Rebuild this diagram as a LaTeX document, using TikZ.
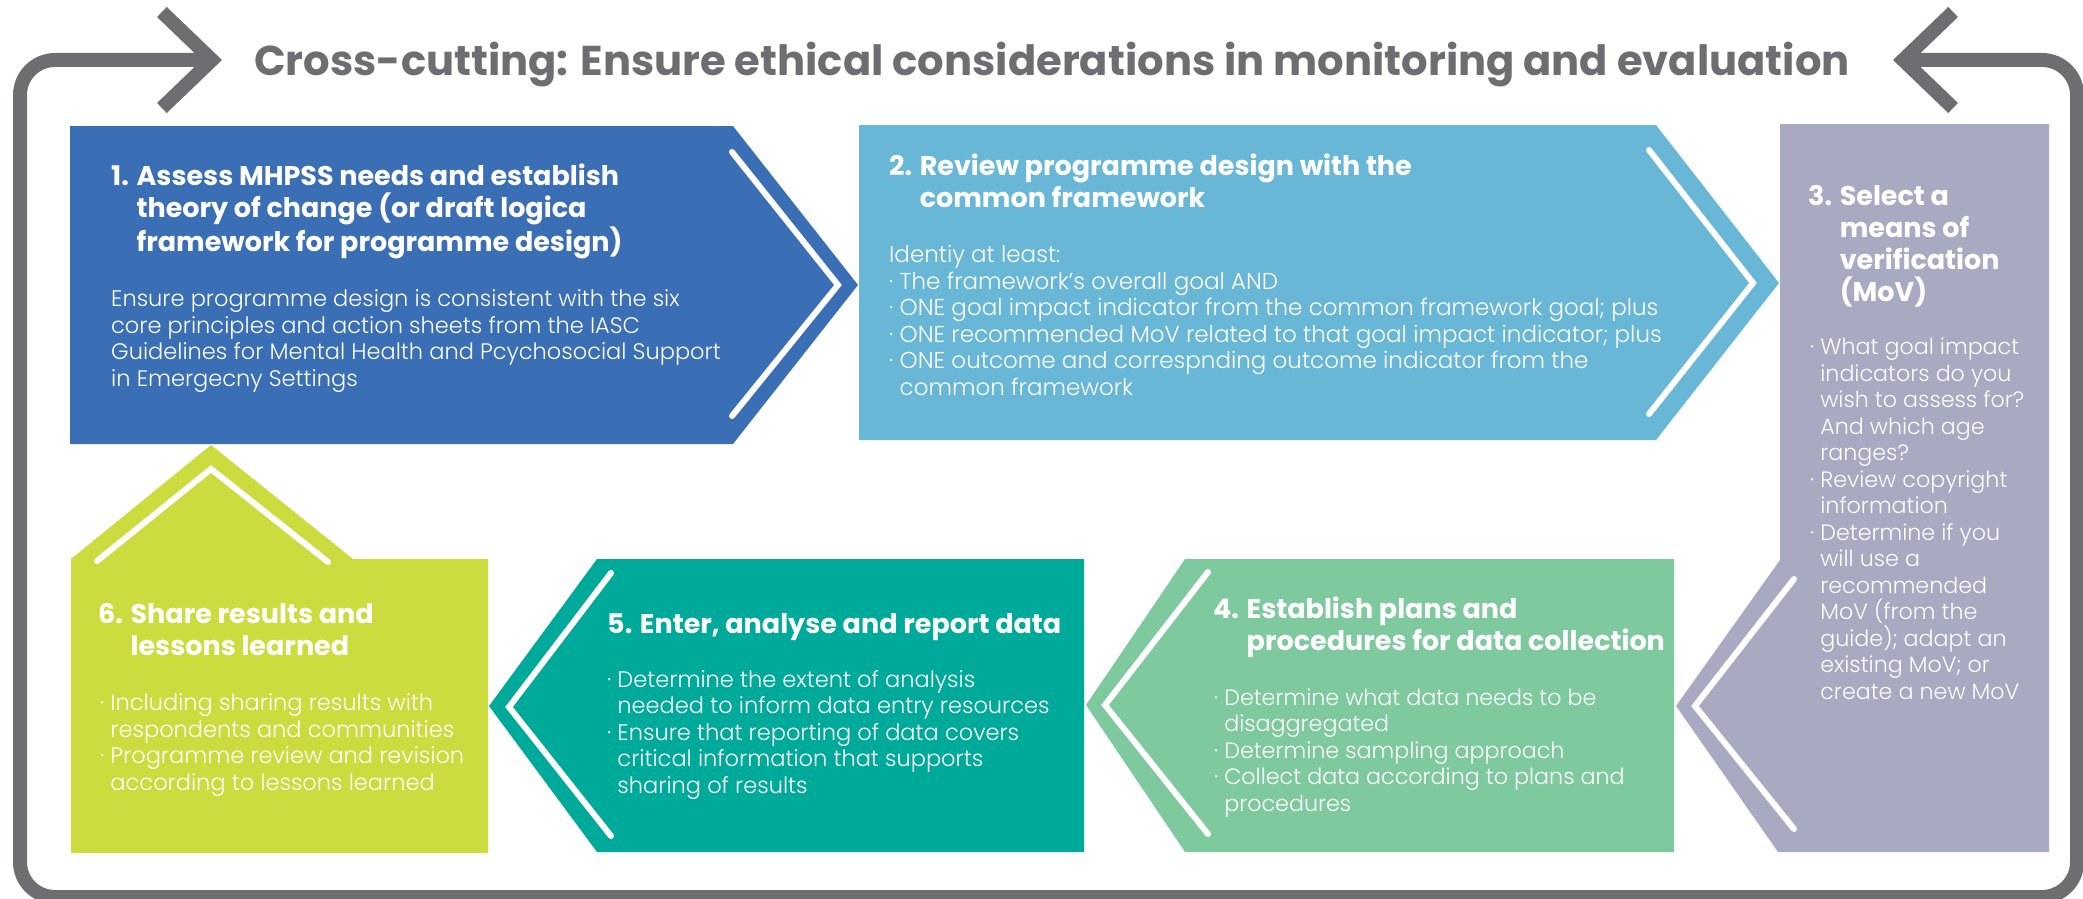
\documentclass[tikz,border=0pt]{standalone}
\usepackage{fontspec}
\setmainfont{Poppins}[UprightFont=* Light, BoldFont=* Bold]
\usetikzlibrary{arrows.meta}

\definecolor{gris}{HTML}{6D6E71}
\definecolor{azul}{HTML}{3A6EB5}
\definecolor{celeste}{HTML}{69B7D6}
\definecolor{lila}{HTML}{A9A9C2}
\definecolor{verde}{HTML}{7FC99F}
\definecolor{turquesa}{HTML}{00AA9A}
\definecolor{lima}{HTML}{CCDB3D}

\newcommand{\bul}{·\ }
\newcommand{\sang}{\phantom{·\ }}

\begin{document}
\begin{tikzpicture}[x=1pt, y=-1pt,
    titulo/.style={anchor=base, inner sep=0pt, text=gris, font=\bfseries\fontsize{41.7}{50}\selectfont},
    cabeza/.style={anchor=base west, inner sep=0pt, align=left, text=white, font=\bfseries\fontsize{27}{32}\selectfont},
    cuerpo/.style={anchor=base west, inner sep=0pt, align=left, text=white, font=\fontsize{#1}{26.5}\selectfont},
    cuerpo/.default=22.5,
    chevron/.style={white, line width=6pt, line cap=round, line join=miter},
    barba/.tip={Straight Barb[length=50pt, width=96pt]}]
    \useasboundingbox (0,0) rectangle (2083,899);
    \clip (0,0) rectangle (2083,899);

    % Ciclo
    \draw[gris, line width=14pt, rounded corners=35pt, barba-barba]
        (1893,60) -- (2077,60) -- (2077,897) -- (20,897) -- (20,60) -- (222,60);
    \node[titulo] (titulo) at (1052,76) {Cross-cutting: Ensure ethical considerations in monitoring and evaluation};

    % Flechas
    \fill[azul] (70,126) -- (733,126) -- (858,285) -- (733,444) -- (70,444) -- cycle;
    \draw[chevron] (732,152) -- (838,285) -- (732,416);

    \fill[celeste] (859,125) -- (1656,125) -- (1779,283) -- (1656,440) -- (859,440) -- cycle;
    \draw[chevron] (1649,150) -- (1753,283) -- (1649,414);

    \fill[lila] (1780,124) -- (2049,124) -- (2049,852) -- (1778,852) -- (1676,706) -- (1780,560) -- cycle;
    \draw[chevron] (1794,579) -- (1695,706) -- (1794,829);

    \fill[verde] (1086,705) -- (1185,559) -- (1674,559) -- (1674,852) -- (1185,852) -- cycle;
    \draw[chevron] (1208,572) -- (1105,705) -- (1208,834);

    \fill[turquesa] (489,706) -- (597,559) -- (1084,559) -- (1084,852) -- (597,852) -- cycle;
    \draw[chevron] (611,573) -- (509,707) -- (611,836);

    \fill[lima] (71,559) -- (211,445) -- (353,559) -- (488,559) -- (488,853) -- (71,853) -- cycle;
    \draw[chevron] (97,561) -- (211,469) -- (328,562);

    % Textos (base = ultima linea)
    \node[cabeza] (cab1) at (111,251) {1. Assess MHPSS needs and establish\\\phantom{1. }theory of change (or draft logica\\\phantom{1. }framework for programme design)};
    \node[cuerpo] (txt1) at (111,386) {Ensure programme design is consistent with the six\\core principles and action sheets from the IASC\\Guidelines for Mental Health and Pcychosocial Support\\in Emergecny Settings};

    \node[cabeza] (cab2) at (889,207) {2. Review programme design with the\\\phantom{2. }common framework};
    \node[cuerpo=23] (txt2) at (889,395) {Identiy at least:\\\bul The framework’s overall goal AND\\\bul ONE goal impact indicator from the common framework goal; plus\\\bul ONE recommended MoV related to that goal impact indicator; plus\\\bul ONE outcome and correspnding outcome indicator from the\\\sang common framework};

    \node[cabeza] (cab3) at (1808,301) {3. Select a\\\phantom{3. }means of\\\phantom{3. }verification\\\phantom{3. }(MoV)};
    \node[cuerpo=22.2] (txt3) at (1810,699) {\bul What goal impact\\\sang indicators do you\\\sang wish to assess for?\\\sang And which age\\\sang ranges?\\\bul Review copyright\\\sang information\\\bul Determine if you\\\sang will use a\\\sang recommended\\\sang MoV (from the\\\sang guide); adapt an\\\sang existing MoV; or\\\sang create a new MoV};

    \node[cabeza] (cab4) at (1213,650) {4. Establish plans and\\\phantom{4. }procedures for data collection};
    \node[cuerpo=22.2] (txt4) at (1214,811) {\bul Determine what data needs to be\\\sang disaggregated\\\bul Determine sampling approach\\\bul Collect data according to plans and\\\sang procedures};

    \node[cabeza] (cab5) at (607,633) {5. Enter, analyse and report data};
    \node[cuerpo] (txt5) at (607,793) {\bul Determine the extent of analysis\\\sang needed to inform data entry resources\\\bul Ensure that reporting of data covers\\\sang critical information that supports\\\sang sharing of results};

    \node[cabeza] (cab6) at (98,655) {6. Share results and\\\phantom{6. }lessons learned};
    \node[cuerpo] (txt6) at (100,790) {\bul Including sharing results with\\\sang respondents and communities\\\bul Programme review and revision\\\sang according to lessons learned};
\end{tikzpicture}
\end{document}
